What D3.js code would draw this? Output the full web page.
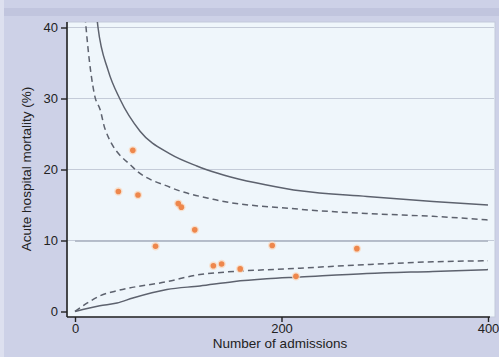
<!DOCTYPE html>
<html><head><meta charset="utf-8">
<script src="https://cdn.jsdelivr.net/npm/d3@7"></script>
<style>html,body{margin:0;padding:0;background:#cdd1e7;}svg{display:block;}</style>
</head><body>
<svg id="c" width="499" height="357"></svg>
<script>
// Hospital data: admissions and acute hospital mortality (%)
const admissions = [42, 56, 61, 78, 100, 103, 116, 134, 142, 160, 191, 214, 273];
const mortality  = [16.9, 22.7, 16.4, 9.2, 15.2, 14.7, 11.5, 6.45, 6.7, 6.0, 9.3, 4.95, 8.85];
// Funnel limits (n, %)
const upper998 = [[20,43],[22.3,40],[32,34],[43.6,29.9],[63,25.4],[92,22.2],[118,20.5],[137.5,19.5],[205,17.3],[218,17.0],[282.8,16.2],[346.7,15.5],[400,15.0]];
const upper95  = [[9,43],[10.7,40],[19.4,30.2],[24.2,28.5],[29.1,25.7],[56.2,20.3],[92,17.5],[133.7,15.8],[218,14.4],[282.8,13.8],[346.7,13.4],[400,12.9]];
const lower95  = [[0,0],[12,1.2],[24,2.2],[40,2.9],[89,4.2],[121,5.2],[218,6.1],[282.5,6.6],[346.7,7.0],[400,7.15]];
const lower998 = [[0,0],[24,0.8],[40.7,1.2],[56,1.9],[89,3.1],[121,3.6],[153,4.2],[185.7,4.6],[218,4.85],[282.5,5.35],[346.7,5.65],[400,5.9]];
const target = 9.9;
const xTicks = [0, 200, 400];
const yTicks = [0, 10, 20, 30, 40];

const svg = d3.select("#c");
const x = d3.scaleLinear().domain([0, 400]).range([75, 488]);
const y = d3.scaleLinear().domain([0, 40]).range([311.5, 27.5]);

// outer decoration
svg.append("rect").attr("x",0).attr("y",0).attr("width",499).attr("height",357).attr("fill","#cdd1e7");
svg.append("rect").attr("x",0).attr("y",8).attr("width",499).attr("height",8).attr("fill","#c1c5de");
svg.append("rect").attr("x",0).attr("y",0).attr("width",4).attr("height",357).attr("fill","#dde0ef");

// plot region
const px0 = 67, px1 = 495, py0 = 22, py1 = 317;
svg.append("rect").attr("x",px0).attr("y",py0).attr("width",px1-px0).attr("height",py1-py0)
  .attr("fill","#eff6fb").attr("stroke","#c3cadb").attr("stroke-width",1);

svg.append("clipPath").attr("id","clip").append("rect")
  .attr("x",px0).attr("y",py0).attr("width",px1-px0).attr("height",py1-py0);

// gridlines
svg.append("g").selectAll("line").data(yTicks.filter(d=>d>0)).join("line")
  .attr("x1",px0).attr("x2",px1-1).attr("y1",d=>y(d)).attr("y2",d=>y(d))
  .attr("stroke","#c4cbd8").attr("stroke-width",1.2);

const g = svg.append("g").attr("clip-path","url(#clip)");
// target line
g.append("line").attr("x1",x(0)).attr("x2",x(400)).attr("y1",y(target)).attr("y2",y(target))
  .attr("stroke","#a3abba").attr("stroke-width",1.3);

const line = d3.line().x(d=>x(d[0])).y(d=>y(d[1])).curve(d3.curveMonotoneX);
[[upper998,null],[lower998,null],[upper95,"6,4"],[lower95,"6,4"]].forEach(([d,dash])=>{
  g.append("path").attr("d",line(d)).attr("fill","none")
   .attr("stroke","#5d626e").attr("stroke-width",1.5)
   .attr("stroke-dasharray",dash);
});

// points
const pts = admissions.map((n,i)=>[n, mortality[i]]);
g.append("g").selectAll("circle.h").data(pts).join("circle")
  .attr("cx",d=>x(d[0])).attr("cy",d=>y(d[1])).attr("r",4.2).attr("fill","#f9d9c0").attr("opacity",0.8);
g.append("g").selectAll("circle.p").data(pts).join("circle")
  .attr("cx",d=>x(d[0])).attr("cy",d=>y(d[1])).attr("r",2.8).attr("fill","#ee874c");

// axes
const font = "'Liberation Sans', Arial, sans-serif";
const yAxis = svg.append("g").attr("transform",`translate(${px0},0)`)
  .call(d3.axisLeft(y).tickValues(yTicks).tickSize(6).tickPadding(3));
yAxis.select(".domain").attr("d",`M0,${py0}V${py1}`).attr("stroke","#222").attr("stroke-width",1.6);
yAxis.selectAll(".tick line").attr("stroke","#222").attr("stroke-width",1.4);
yAxis.selectAll(".tick text").attr("font-family",font).attr("font-size",13).attr("fill","#222");

const xAxis = svg.append("g").attr("transform",`translate(0,${py1})`)
  .call(d3.axisBottom(x).tickValues(xTicks).tickSize(5).tickPadding(2));
xAxis.select(".domain").attr("d",`M${px0},0H490`).attr("stroke","#222").attr("stroke-width",1.6);
xAxis.selectAll(".tick line").attr("stroke","#222").attr("stroke-width",1.4);
xAxis.selectAll(".tick text").attr("font-family",font).attr("font-size",13).attr("fill","#222");

svg.append("text").attr("x",280).attr("y",348).attr("text-anchor","middle")
  .attr("font-family",font).attr("font-size",13.5).attr("fill","#222").text("Number of admissions");
svg.append("text").attr("transform","translate(31,169) rotate(-90)").attr("text-anchor","middle")
  .attr("font-family",font).attr("font-size",13.5).attr("fill","#222").text("Acute hospital mortality (%)");
</script>
</body></html>
